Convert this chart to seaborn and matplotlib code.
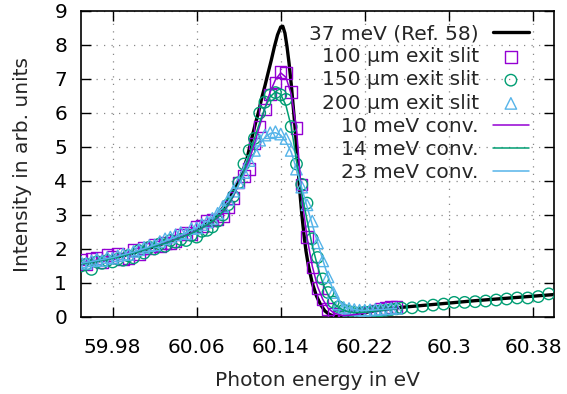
import matplotlib
matplotlib.use("Agg")
import matplotlib.pyplot as plt
import seaborn as sns
import pandas as pd

# ---------------- data ----------------
# Measurement energies (eV) shared by the three exit-slit data sets
energy = [59.950, 59.955, 59.960, 59.965, 59.970, 59.975, 59.980, 59.985, 59.990, 59.995,
          60.000, 60.005, 60.010, 60.015, 60.020, 60.025, 60.030, 60.035, 60.040, 60.045,
          60.050, 60.055, 60.060, 60.065, 60.070, 60.075, 60.080, 60.085, 60.090, 60.095,
          60.100, 60.105, 60.110, 60.115, 60.120, 60.125, 60.130, 60.135, 60.140, 60.145,
          60.150, 60.155, 60.160, 60.165, 60.170, 60.175, 60.180, 60.185, 60.190, 60.195,
          60.200, 60.205, 60.210, 60.215, 60.220, 60.225, 60.230, 60.235, 60.240, 60.245,
          60.250]

slit100 = [1.69, 1.55, 1.72, 1.73, 1.62, 1.83, 1.76, 1.87, 1.71, 1.73,
           1.97, 1.85, 2.03, 2.01, 2.12, 2.07, 2.17, 2.16, 2.23, 2.43,
           2.47, 2.42, 2.65, 2.68, 2.82, 2.85, 2.87, 2.96, 3.23, 3.50,
           3.95, 4.15, 4.35, 5.10, 5.60, 6.10, 6.55, 6.90, 7.20, 7.18,
           6.62, 5.56, 3.90, 2.35, 1.45, 0.85, 0.52, 0.24, 0.10, 0.04,
           0.02, 0.00, 0.03, 0.08, 0.12, 0.13, 0.18, 0.24, 0.27, 0.30,
           0.30]

slit150 = [1.50, 1.55, 1.40, 1.62, 1.58, 1.66, 1.62, 1.70, 1.67, 1.80,
           1.74, 1.95, 1.88, 2.05, 2.00, 2.15, 2.08, 2.25, 2.20, 2.28,
           2.25, 2.40, 2.35, 2.52, 2.55, 2.65, 2.82, 3.00, 3.30, 3.55,
           3.95, 4.50, 4.90, 5.25, 6.00, 6.32, 6.53, 6.60, 6.53, 6.40,
           5.60, 4.50, 3.90, 3.35, 2.30, 1.75, 1.12, 0.72, 0.44, 0.30,
           0.20, 0.16, 0.13, 0.12, 0.14, 0.15, 0.17, 0.18, 0.20, 0.22,
           0.24]

# additional 150 um points at higher energy
energy150_ext = [60.255, 60.265, 60.275, 60.285, 60.295, 60.305, 60.315, 60.325,
                 60.335, 60.345, 60.355, 60.365, 60.375, 60.385, 60.395]
slit150_ext = [0.26, 0.27, 0.32, 0.35, 0.38, 0.43, 0.43, 0.45,
               0.47, 0.50, 0.53, 0.56, 0.56, 0.60, 0.68]

slit200 = [1.62, 1.58, 1.65, 1.70, 1.66, 1.75, 1.73, 1.80, 1.85, 1.84,
           1.93, 1.98, 2.05, 2.10, 2.12, 2.22, 2.30, 2.35, 2.42, 2.48,
           2.45, 2.60, 2.62, 2.72, 2.80, 2.90, 3.05, 3.25, 3.45, 3.70,
           3.95, 4.25, 4.60, 4.90, 5.20, 5.35, 5.42, 5.45, 5.38, 5.25,
           4.90, 4.35, 3.82, 3.30, 2.82, 2.18, 1.65, 1.18, 0.72, 0.38,
           0.28, 0.25, 0.22, 0.20, 0.20, 0.21, 0.22, 0.23, 0.24, 0.25,
           0.26]

# convolved profiles (same energies)
conv10 = [1.57, 1.60, 1.62, 1.65, 1.68, 1.71, 1.74, 1.77, 1.81, 1.85,
          1.89, 1.93, 1.98, 2.03, 2.08, 2.13, 2.18, 2.23, 2.29, 2.35,
          2.41, 2.47, 2.55, 2.62, 2.70, 2.80, 2.92, 3.08, 3.28, 3.55,
          3.90, 4.20, 4.60, 5.10, 5.62, 6.15, 6.62, 6.98, 7.18, 7.05,
          6.55, 5.55, 3.55, 2.35, 1.50, 0.90, 0.52, 0.26, 0.13, 0.07,
          0.04, 0.05, 0.07, 0.09, 0.12, 0.15, 0.17, 0.19, 0.21, 0.23,
          0.25]

conv14 = [1.56, 1.59, 1.61, 1.64, 1.67, 1.70, 1.73, 1.76, 1.80, 1.84,
          1.88, 1.92, 1.97, 2.02, 2.07, 2.12, 2.17, 2.22, 2.28, 2.34,
          2.40, 2.46, 2.54, 2.62, 2.71, 2.81, 2.94, 3.10, 3.30, 3.57,
          3.92, 4.30, 4.75, 5.25, 5.72, 6.15, 6.48, 6.62, 6.55, 6.22,
          5.60, 4.60, 3.65, 2.85, 2.10, 1.50, 1.00, 0.65, 0.42, 0.28,
          0.20, 0.15, 0.13, 0.13, 0.14, 0.15, 0.17, 0.19, 0.21, 0.23,
          0.25]

conv23 = [1.58, 1.61, 1.63, 1.66, 1.69, 1.72, 1.75, 1.79, 1.83, 1.87,
          1.91, 1.96, 2.01, 2.06, 2.12, 2.17, 2.23, 2.29, 2.35, 2.41,
          2.48, 2.55, 2.63, 2.72, 2.82, 2.93, 3.06, 3.22, 3.40, 3.62,
          3.88, 4.18, 4.50, 4.82, 5.08, 5.28, 5.40, 5.42, 5.35, 5.15,
          4.85, 4.35, 3.80, 3.25, 2.72, 2.20, 1.68, 1.20, 0.78, 0.50,
          0.34, 0.26, 0.22, 0.20, 0.19, 0.20, 0.21, 0.22, 0.23, 0.24,
          0.25]

# reference profile, 37 meV (Ref. 58)
ref_energy = [59.950, 59.960, 59.970, 59.980, 59.990, 60.000, 60.010, 60.020, 60.030, 60.040,
              60.050, 60.060, 60.070, 60.080, 60.085, 60.090, 60.095, 60.100, 60.105, 60.108,
              60.112, 60.116, 60.119, 60.122, 60.125, 60.128, 60.131, 60.134, 60.137, 60.140,
              60.142, 60.144, 60.146, 60.148, 60.150, 60.152, 60.154, 60.156, 60.158, 60.160,
              60.162, 60.164, 60.1665, 60.170, 60.174, 60.178, 60.182, 60.186, 60.190, 60.195,
              60.200, 60.210, 60.220, 60.235, 60.250, 60.275, 60.300, 60.325, 60.350, 60.375,
              60.400]
ref_intensity = [1.55, 1.61, 1.67, 1.73, 1.80, 1.88, 1.97, 2.07, 2.18, 2.29,
                 2.42, 2.57, 2.76, 3.02, 3.20, 3.42, 3.70, 3.98, 4.38, 4.67,
                 5.20, 5.70, 6.04, 6.45, 6.80, 7.18, 7.55, 7.95, 8.30, 8.53,
                 8.55, 8.35, 7.95, 7.45, 6.85, 6.15, 5.45, 4.60, 3.75, 3.05,
                 2.45, 1.95, 1.48, 1.00, 0.62, 0.36, 0.18, 0.08, 0.03, 0.01,
                 0.01, 0.05, 0.13, 0.21, 0.27, 0.34, 0.41, 0.48, 0.54, 0.60,
                 0.66]

x_ticks = [59.98, 60.06, 60.14, 60.22, 60.30, 60.38]
x_tick_labels = ["59.98", "60.06", "60.14", "60.22", "60.3", "60.38"]
y_ticks = [0, 1, 2, 3, 4, 5, 6, 7, 8, 9]

# ---------------- styling ----------------
sns.set_theme(style="ticks")
plt.rcParams["font.family"] = ["DejaVu Sans"]
plt.rcParams["font.size"] = 14.5

PURPLE = "#9400D3"
GREEN = "#009E73"
BLUE = "#56B4E9"

fig = plt.figure(figsize=(5.67, 3.94), dpi=100)
ax = fig.add_axes([81 / 567, 1 - 317 / 394, (554 - 81) / 567, (317 - 11) / 394])

df_ref = pd.DataFrame({"x": ref_energy, "y": ref_intensity})
df = pd.DataFrame({"x": energy, "s100": slit100, "s150": slit150, "s200": slit200,
                   "c10": conv10, "c14": conv14, "c23": conv23})
df_ext = pd.DataFrame({"x": energy150_ext, "y": slit150_ext})
df150 = pd.concat([df[["x", "s150"]].rename(columns={"s150": "y"}), df_ext], ignore_index=True)

sns.lineplot(data=df_ref, x="x", y="y", ax=ax, color="black", lw=2.4, sort=False,
             label="37 meV (Ref. 58)", legend=False, zorder=3)
msz = 68
sns.scatterplot(data=df, x="x", y="s100", ax=ax, marker="s", s=msz, fc="none", ec=PURPLE,
                linewidth=1.0, label="100 µm exit slit", legend=False, zorder=4)
sns.scatterplot(data=df150, x="x", y="y", ax=ax, marker="o", s=msz, fc="none", ec=GREEN,
                linewidth=1.0, label="150 µm exit slit", legend=False, zorder=4)
sns.scatterplot(data=df, x="x", y="s200", ax=ax, marker="^", s=msz, fc="none", ec=BLUE,
                linewidth=1.0, label="200 µm exit slit", legend=False, zorder=4)
sns.lineplot(data=df, x="x", y="c10", ax=ax, color=PURPLE, lw=1.1, sort=False,
             label="10 meV conv.", legend=False, zorder=5)
sns.lineplot(data=df, x="x", y="c14", ax=ax, color=GREEN, lw=1.1, sort=False,
             label="14 meV conv.", legend=False, zorder=5)
sns.lineplot(data=df, x="x", y="c23", ax=ax, color=BLUE, lw=1.1, sort=False,
             label="23 meV conv.", legend=False, zorder=5)

ax.set_xlim(59.95, 60.40)
ax.set_ylim(0, 9)
ax.set_xticks(x_ticks)
ax.set_xticklabels(x_tick_labels)
ax.set_yticks(y_ticks)
ax.tick_params(direction="in", top=True, right=True, length=7, width=1.0,
               labelsize=14.5, colors="black")
ax.tick_params(axis="x", pad=15)
ax.tick_params(axis="y", pad=10)
for sp in ax.spines.values():
    sp.set_linewidth(1.2)
    sp.set_color("black")
ax.grid(True, linestyle=(0, (1, 5)), color="#888888", linewidth=0.9, zorder=0)
ax.set_axisbelow(True)

ax.set_xlabel("Photon energy in eV", fontsize=14.5, labelpad=10)
ax.set_ylabel("Intensity in arb. units", fontsize=14.5, labelpad=16)

handles, labels = ax.get_legend_handles_labels()
leg = ax.legend(handles, labels, loc="upper right", frameon=False, markerfirst=False,
                bbox_to_anchor=(529 / 567, 1 - 24 / 394), bbox_transform=fig.transFigure,
                borderpad=0, borderaxespad=0, labelspacing=0.21, handlelength=1.8,
                handletextpad=0.7, fontsize=14.5)

fig.savefig("out.png", dpi=100)
